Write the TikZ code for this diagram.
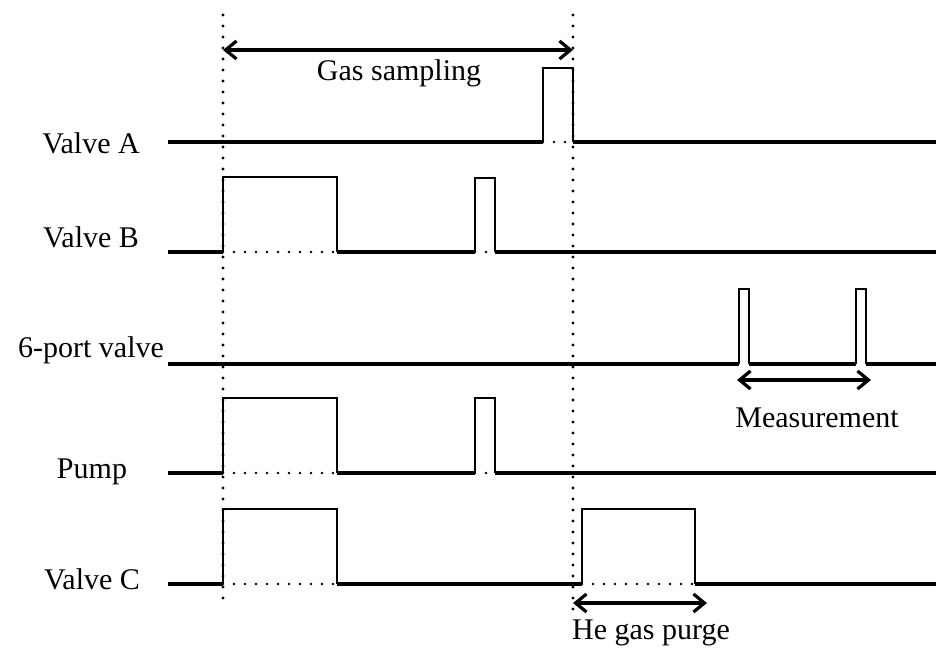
\documentclass[tikz,border=0pt]{standalone}
\usepackage{fontspec}
\setmainfont{Liberation Serif}
\usetikzlibrary{arrows.meta}

\begin{document}
\begin{tikzpicture}[x=1pt, y=-1pt,
    lbl/.style={anchor=base, font=\fontsize{30}{34}\selectfont},
    sig/.style={line width=3.4pt},
    pulse/.style={line width=2.2pt, line join=miter},
    guide/.style={line width=3.4pt, line cap=round, dash pattern=on 0pt off 11pt},
    under/.style={line width=2.8pt, line cap=round, dash pattern=on 0pt off 11pt},
    span/.style={line width=3.2pt, {Straight Barb[length=11pt,width=18pt]}-{Straight Barb[length=11pt,width=18pt]}}]
    \useasboundingbox (0,0) rectangle (936,648);

    % signal names
    \node[lbl] (valveA) at (91,153) {Valve A};
    \node[lbl] (valveB) at (91,247) {Valve B};
    \node[lbl] (sixport) at (91,357) {6-port valve};
    \node[lbl] (pump) at (92,478) {Pump};
    \node[lbl] (valveC) at (92,589) {Valve C};

    % time marks
    \coordinate (t0top) at (223,15);
    \coordinate (t0bot) at (223,608);
    \coordinate (t1top) at (573,15);
    \coordinate (t1bot) at (573,612);
    \draw[guide] (t0top) -- (t0bot);
    \draw[guide] (t1top) -- (t1bot);

    % Valve A
    \draw[sig] (168,142) -- (543,142);
    \draw[pulse] (543,142) -- (543,68) -- (573,68) -- (573,142);
    \draw[under] (543,142) -- (573,142);
    \draw[sig] (573,142) -- (936,142);

    % Valve B
    \draw[sig] (168,252) -- (223,252);
    \draw[pulse] (223,252) -- (223,177) -- (337,177) -- (337,252);
    \draw[under] (223,252) -- (337,252);
    \draw[sig] (337,252) -- (475,252);
    \draw[pulse] (475,252) -- (475,178) -- (495,178) -- (495,252);
    \draw[under] (475,252) -- (495,252);
    \draw[sig] (495,252) -- (936,252);

    % 6-port valve
    \draw[sig] (168,364) -- (739,364);
    \draw[pulse] (739,364) -- (739,289) -- (749,289) -- (749,364);
    \draw[sig] (749,364) -- (856,364);
    \draw[pulse] (856,364) -- (856,289) -- (866,289) -- (866,364);
    \draw[sig] (866,364) -- (936,364);

    % Pump
    \draw[sig] (168,473) -- (223,473);
    \draw[pulse] (223,473) -- (223,398) -- (337,398) -- (337,473);
    \draw[under] (223,473) -- (337,473);
    \draw[sig] (337,473) -- (475,473);
    \draw[pulse] (475,473) -- (475,398) -- (495,398) -- (495,473);
    \draw[under] (475,473) -- (495,473);
    \draw[sig] (495,473) -- (936,473);

    % Valve C
    \draw[sig] (168,584) -- (223,584);
    \draw[pulse] (223,584) -- (223,509) -- (337,509) -- (337,584);
    \draw[under] (223,584) -- (337,584);
    \draw[sig] (337,584) -- (582,584);
    \draw[pulse] (582,584) -- (582,509) -- (695,509) -- (695,584);
    \draw[under] (582,584) -- (695,584);
    \draw[sig] (695,584) -- (936,584);

    % durations
    \coordinate (gasL) at (223,50);
    \coordinate (gasR) at (573,50);
    \draw[span] (gasL) -- (gasR);
    \node[lbl] (gas) at (399,80) {Gas sampling};

    \coordinate (measL) at (737,380);
    \coordinate (measR) at (871,380);
    \draw[span] (measL) -- (measR);
    \node[lbl] (meas) at (817,427) {Measurement};

    \coordinate (purgeL) at (573,603);
    \coordinate (purgeR) at (707,603);
    \draw[span] (purgeL) -- (purgeR);
    \node[lbl] (purge) at (651,639) {He gas purge};
\end{tikzpicture}
\end{document}
